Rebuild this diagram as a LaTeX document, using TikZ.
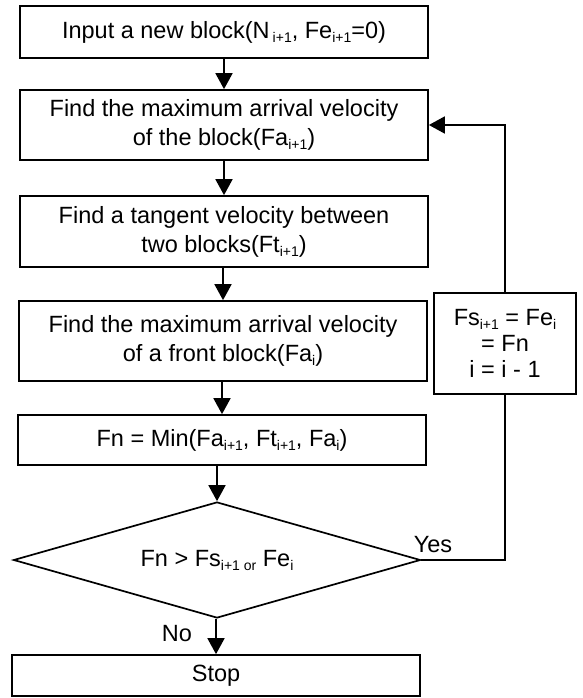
\documentclass[tikz,border=0pt]{standalone}
\usepackage{fontspec}
\setmainfont{Liberation Sans}
\usetikzlibrary{shapes.geometric,arrows.meta}
\newcommand\sbs[1]{\raisebox{-4pt}{\fontsize{14}{14}\selectfont #1}}
\begin{document}
\begin{tikzpicture}[x=1pt,y=-1pt]
\tikzset{
  flowbox/.style={draw, line width=1.7pt, rectangle, align=center, minimum width=408pt,
    inner sep=0pt, font=\fontsize{23.5}{29}\selectfont},
  decbox/.style={draw, diamond, aspect=3.5, line width=1.7pt, minimum width=407pt, minimum height=116pt,
    inner sep=0pt, font=\fontsize{23.5}{29}\selectfont},
  conn/.style={line width=1.7pt, -{Triangle[length=16pt,width=17pt]}},
  plainline/.style={line width=1.7pt},
  lbl/.style={inner sep=0pt, font=\fontsize{23.5}{29}\selectfont}
}
\useasboundingbox (0,0) rectangle (582,698);

\node[flowbox, minimum height=52pt] (b1) at (224,32) {Input a new block(N\hspace{3pt}\sbs{i+1}, Fe\sbs{i+1}=0)};
\node[flowbox, minimum height=70pt] (b2) at (224,125) {Find the maximum arrival velocity\\of the block(Fa\sbs{i+1})};
\node[flowbox, minimum height=71pt] (b3) at (224,231.5) {Find a tangent velocity between\\two blocks(Ft\sbs{i+1})};
\node[flowbox, minimum height=80pt] (b4) at (223,341) {Find the maximum arrival velocity\\of a front block(Fa\sbs{i})};
\node[flowbox, minimum height=50pt] (b5) at (222,440) {Fn = Min(Fa\sbs{i+1}, Ft\sbs{i+1}, Fa\sbs{i})};
\node[decbox] (d) at (217,560) {Fn > Fs\sbs{i+1 or} Fe\sbs{i}};
\node[flowbox, minimum height=41pt] (stop) at (216,675.5) {Stop};
\node[flowbox, minimum width=142pt, minimum height=101pt, font=\fontsize{23.5}{26}\selectfont] (side) at (505,343.5) {Fs\sbs{i+1} = Fe\sbs{i}\\= Fn\\i = i - 1};

\node[lbl] (yes) at (433,545) {Yes};
\node[lbl] (no) at (177,634) {No};

\draw[conn] (b1.south) -- (b2.north);
\draw[conn] (b2.south) -- (b3.north);
\draw[conn] (b3.south -| b4.north) -- (b4.north);
\draw[conn] (b4.south -| b5.north) -- (b5.north);
\draw[conn] (b5.south -| d.north) -- (d.north);
\draw[conn] (d.south -| stop.north) -- (stop.north);
\draw[plainline] (d.east) -| (side.south);
\draw[conn] (side.north) |- (b2.east);
\end{tikzpicture}
\end{document}
